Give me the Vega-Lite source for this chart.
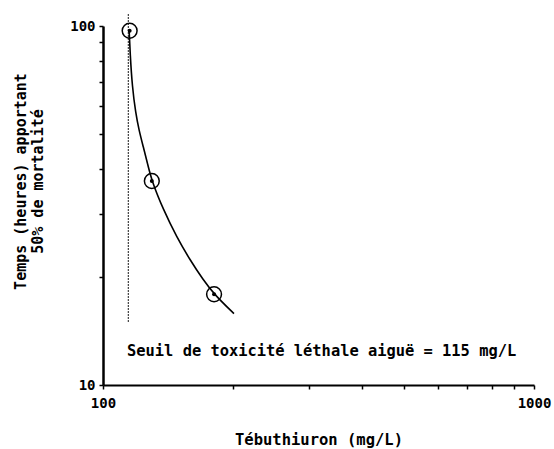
{
  "$schema": "https://vega.github.io/schema/vega-lite/v6.json",
  "autosize": "none",
  "width": 431,
  "height": 359,
  "padding": {"left": 103, "top": 26, "right": 20, "bottom": 64},
  "background": "white",
  "config": {
    "view": {"stroke": null},
    "font": "DejaVu Sans Mono"
  },
  "datasets": {
    "obs": [
      {"conc": 115.3, "temps": 97.0},
      {"conc": 129.8, "temps": 37.0},
      {"conc": 181, "temps": 17.9}
    ],
    "curve": [
      {"conc": 115.0, "temps": 97.0},
      {"conc": 115.6, "temps": 83.9},
      {"conc": 116.9, "temps": 67.8},
      {"conc": 119.1, "temps": 57.1},
      {"conc": 121.2, "temps": 51.3},
      {"conc": 124.0, "temps": 46.1},
      {"conc": 126.9, "temps": 41.3},
      {"conc": 129.8, "temps": 37.0},
      {"conc": 138.0, "temps": 30.8},
      {"conc": 148.3, "temps": 25.8},
      {"conc": 159.2, "temps": 22.3},
      {"conc": 170.9, "temps": 19.6},
      {"conc": 181.0, "temps": 17.9},
      {"conc": 201.3, "temps": 15.8}
    ],
    "seuil": [
      {"conc": 114.5, "y1": 15.0, "y2": 108}
    ],
    "label": [
      {"conc": 113.7, "temps": 12.4, "txt": "Seuil de toxicité léthale aiguë = 115 mg/L"}
    ]
  },
  "layer": [
    {
      "data": {"name": "seuil"},
      "mark": {"type": "rule", "strokeDash": [1.5, 1.5], "strokeWidth": 1.2, "color": "black"},
      "encoding": {
        "x": {
          "field": "conc", "type": "quantitative",
          "scale": {"type": "log", "domain": [100, 1000], "nice": false},
          "axis": {
            "title": "Tébuthiuron (mg/L)",
            "values": [100, 200, 300, 400, 500, 600, 700, 800, 900, 1000],
            "labelExpr": "datum.value == 100 || datum.value == 1000 ? datum.label : ''",
            "format": "d",
            "domainColor": "black", "domainWidth": 2,
            "tickColor": "black", "tickSize": 4, "tickWidth": 1.5,
            "labelFont": "DejaVu Sans Mono", "labelFontWeight": "bold", "labelFontSize": 14, "labelColor": "black",
            "labelPadding": 7, "labelFlush": false,
            "titleFont": "DejaVu Sans Mono", "titleFontWeight": "bold", "titleFontSize": 15.5, "titleColor": "black",
            "titlePadding": 22, "grid": false
          }
        },
        "y": {
          "field": "y1", "type": "quantitative",
          "scale": {"type": "log", "domain": [10, 100], "nice": false},
          "axis": {
            "title": ["Temps (heures) apportant", "50% de mortalité"],
            "values": [10, 20, 30, 40, 50, 60, 70, 80, 90, 100],
            "labelExpr": "datum.value == 10 || datum.value == 100 ? datum.label : ''",
            "format": "d",
            "domainColor": "black", "domainWidth": 2.5,
            "tickColor": "black", "tickSize": 4, "tickWidth": 1.5,
            "labelFont": "DejaVu Sans Mono", "labelFontWeight": "bold", "labelFontSize": 14, "labelColor": "black",
            "labelPadding": 4,
            "titleFont": "DejaVu Sans Mono", "titleFontWeight": "bold", "titleFontSize": 15, "titleColor": "black",
            "titleAngle": -90, "titleX": -83, "titleY": 155, "titleAlign": "center", "titleBaseline": "middle",
            "titleLineHeight": 17, "grid": false
          }
        },
        "y2": {"field": "y2"}
      }
    },
    {
      "data": {"name": "curve"},
      "mark": {"type": "line", "interpolate": "basis", "color": "black", "strokeWidth": 1.6},
      "encoding": {
        "x": {"field": "conc", "type": "quantitative"},
        "y": {"field": "temps", "type": "quantitative"}
      }
    },
    {
      "data": {"name": "obs"},
      "mark": {"type": "point", "shape": "circle", "size": 220, "filled": false, "color": "black", "strokeWidth": 1.5, "opacity": 1},
      "encoding": {
        "x": {"field": "conc", "type": "quantitative"},
        "y": {"field": "temps", "type": "quantitative"}
      }
    },
    {
      "data": {"name": "obs"},
      "mark": {"type": "point", "shape": "circle", "size": 16, "filled": true, "color": "black", "opacity": 1},
      "encoding": {
        "x": {"field": "conc", "type": "quantitative"},
        "y": {"field": "temps", "type": "quantitative"}
      }
    },
    {
      "data": {"name": "label"},
      "mark": {"type": "text", "align": "left", "baseline": "middle", "font": "DejaVu Sans Mono", "fontWeight": "bold", "fontSize": 15.4, "color": "black"},
      "encoding": {
        "x": {"field": "conc", "type": "quantitative"},
        "y": {"field": "temps", "type": "quantitative"},
        "text": {"field": "txt"}
      }
    }
  ]
}
